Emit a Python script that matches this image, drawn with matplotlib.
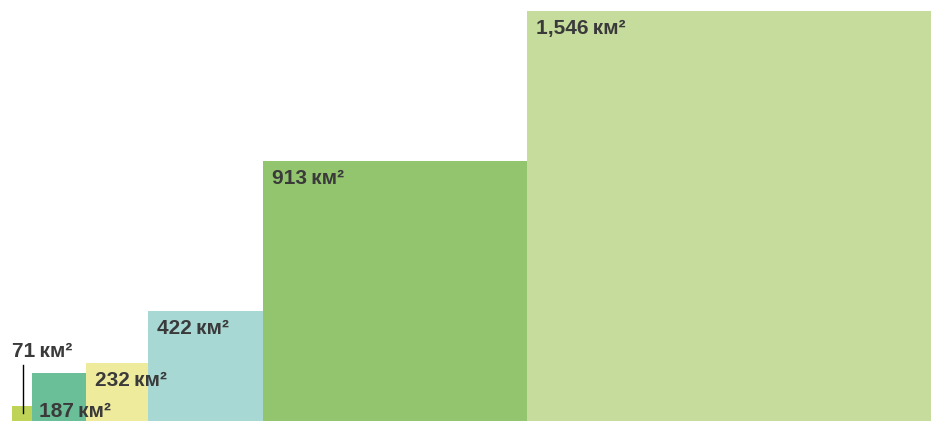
import matplotlib
matplotlib.use("Agg")
from matplotlib import pyplot as plt

# areas in km2, with the box sizes (same units as the axes)
values = [71, 187, 232, 422, 913, 1546]
labels = ["71\u2009км²", "187\u2009км²", "232\u2009км²", "422\u2009км²", "913\u2009км²", "1,546\u2009км²"]
widths = [20, 54, 62, 115, 264, 404]
heights = [15, 48, 58, 110, 260, 410]
colors = ["#bfd356", "#6bbf98", "#efeb9d", "#a7d8d4", "#93c56f", "#c6dc9d"]

plt.rcParams['font.family'] = ['Liberation Sans', 'DejaVu Sans']

fig = plt.figure(figsize=(9.31, 4.21), dpi=100)
ax = fig.add_axes([0, 0, 1, 1])
ax.set_xlim(0, 931)
ax.set_ylim(0, 421)
ax.axis("off")

lefts = [12]
for w in widths[:-1]:
    lefts.append(lefts[-1] + w)

ax.bar(lefts, heights, width=widths, align="edge", color=colors, linewidth=0)

txt = dict(fontsize=15, fontweight="bold", color="#3a3a3a")
for i, (x, h, lab) in enumerate(zip(lefts, heights, labels)):
    if i == 0:
        # small box: label above with a leader line
        ax.text(x, h + 49, lab, ha="left", va="baseline", **txt)
        ax.plot([x + 11, x + 11], [8, h + 41], color="black", lw=1)
    elif i == 1:
        ax.text(x + 7, 4, lab, ha="left", va="baseline", **txt)
    else:
        ax.text(x + 9, h - 8, lab, ha="left", va="top", **txt)

fig.savefig("out.png", dpi=100)
